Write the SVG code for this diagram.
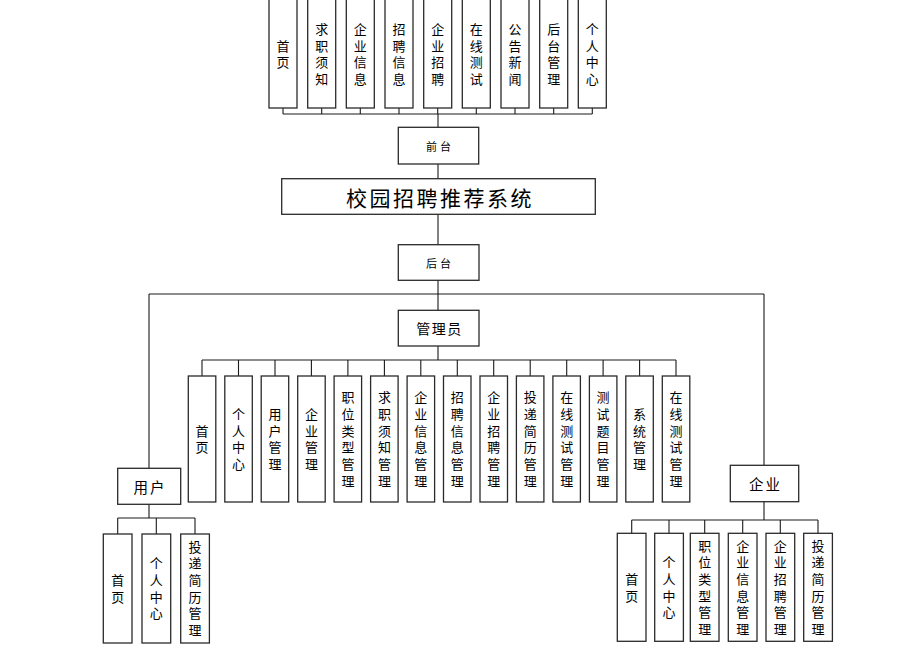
<svg xmlns="http://www.w3.org/2000/svg" width="909" height="645" viewBox="0 0 909 645">
<style>
.b{fill:#fff;stroke:#2a2a2a;stroke-width:1.3}
.c{fill:none;stroke:#1a1a1a;stroke-width:1.1}
.v{font-family:"Noto Sans CJK SC","Liberation Sans",sans-serif;font-size:13px;fill:#000;text-anchor:middle;writing-mode:vertical-rl;letter-spacing:3.7px}
.h{font-family:"Noto Sans CJK SC","Liberation Sans",sans-serif;fill:#000;text-anchor:middle;dominant-baseline:central}
</style>
<rect width="909" height="645" fill="#fff"/>
<g id="connectors">
<path class="c" d="M283,108V114M321.7,108V114M360.3,108V114M399,108V114M437.7,108V114M476.3,108V114M515,108V114M553.7,108V114M592.3,108V114M283,114H592.3M438,114V127"/>
<path class="c" d="M438,164V179M438,214V245M438,280V310M149,294H764M149,294V468M764,294V465"/>
<path class="c" d="M438,346V360M202,360H676M202,360V376M238.5,360V376M275,360V376M311.4,360V376M347.9,360V376M384.4,360V376M420.8,360V376M457.3,360V376M493.7,360V376M530.2,360V376M566.7,360V376M603.1,360V376M639.6,360V376M676,360V376"/>
<path class="c" d="M149,504V518M117.7,518H195M117.7,518V534M156.3,518V534M195,518V534"/>
<path class="c" d="M764,502V520M631.7,520H818M631.7,520V533M669,520V533M704.7,520V533M742.7,520V533M780.3,520V533M818,520V533"/>
</g>
<g id="top-1"><rect class="b" x="269" y="-1" width="28" height="109"/><text class="v" x="283" y="55.8">首页</text></g>
<g id="top-2"><rect class="b" x="307.7" y="-1" width="28" height="109"/><text class="v" x="321.7" y="55.8">求职须知</text></g>
<g id="top-3"><rect class="b" x="346.3" y="-1" width="28" height="109"/><text class="v" x="360.3" y="55.8">企业信息</text></g>
<g id="top-4"><rect class="b" x="385" y="-1" width="28" height="109"/><text class="v" x="399" y="55.8">招聘信息</text></g>
<g id="top-5"><rect class="b" x="423.7" y="-1" width="28" height="109"/><text class="v" x="437.7" y="55.8">企业招聘</text></g>
<g id="top-6"><rect class="b" x="462.3" y="-1" width="28" height="109"/><text class="v" x="476.3" y="55.8">在线测试</text></g>
<g id="top-7"><rect class="b" x="501" y="-1" width="28" height="109"/><text class="v" x="515" y="55.8">公告新闻</text></g>
<g id="top-8"><rect class="b" x="539.7" y="-1" width="28" height="109"/><text class="v" x="553.7" y="55.8">后台管理</text></g>
<g id="top-9"><rect class="b" x="578.3" y="-1" width="28" height="109"/><text class="v" x="592.3" y="55.8">个人中心</text></g>
<g id="qiantai"><rect class="b" x="398.3" y="127.3" width="80.4" height="36.7"/><text class="h" x="440" y="146" font-size="11" letter-spacing="3">前台</text></g>
<g id="title"><rect class="b" x="281.7" y="178.7" width="313.6" height="35.6"/><text class="h" x="440" y="196.5" font-size="21" letter-spacing="2.5">校园招聘推荐系统</text></g>
<g id="houtai"><rect class="b" x="398.3" y="244.7" width="80.7" height="35.6"/><text class="h" x="440" y="263" font-size="11" letter-spacing="3">后台</text></g>
<g id="admin"><rect class="b" x="398.3" y="310.3" width="80.7" height="35.7"/><text class="h" x="439.5" y="328" font-size="14" letter-spacing="1.5">管理员</text></g>
<g id="user"><rect class="b" x="117.7" y="468.3" width="63" height="36"/><text class="h" x="150" y="486.5" font-size="14.5" letter-spacing="2">用户</text></g>
<g id="company"><rect class="b" x="730.3" y="465.3" width="68.4" height="36.4"/><text class="h" x="765.5" y="483.5" font-size="14.5" letter-spacing="2">企业</text></g>
<g id="a1"><rect class="b" x="188.3" y="376" width="27.5" height="126"/><text class="v" x="202" y="440.8">首页</text></g>
<g id="a2"><rect class="b" x="224.8" y="376" width="27.5" height="126"/><text class="v" x="238.5" y="440.8">个人中心</text></g>
<g id="a3"><rect class="b" x="261.2" y="376" width="27.5" height="126"/><text class="v" x="275" y="440.8">用户管理</text></g>
<g id="a4"><rect class="b" x="297.7" y="376" width="27.5" height="126"/><text class="v" x="311.4" y="440.8">企业管理</text></g>
<g id="a5"><rect class="b" x="334.1" y="376" width="27.5" height="126"/><text class="v" x="347.9" y="440.8">职位类型管理</text></g>
<g id="a6"><rect class="b" x="370.6" y="376" width="27.5" height="126"/><text class="v" x="384.4" y="440.8">求职须知管理</text></g>
<g id="a7"><rect class="b" x="407.1" y="376" width="27.5" height="126"/><text class="v" x="420.8" y="440.8">企业信息管理</text></g>
<g id="a8"><rect class="b" x="443.5" y="376" width="27.5" height="126"/><text class="v" x="457.3" y="440.8">招聘信息管理</text></g>
<g id="a9"><rect class="b" x="480" y="376" width="27.5" height="126"/><text class="v" x="493.7" y="440.8">企业招聘管理</text></g>
<g id="a10"><rect class="b" x="516.4" y="376" width="27.5" height="126"/><text class="v" x="530.2" y="440.8">投递简历管理</text></g>
<g id="a11"><rect class="b" x="552.9" y="376" width="27.5" height="126"/><text class="v" x="566.7" y="440.8">在线测试管理</text></g>
<g id="a12"><rect class="b" x="589.4" y="376" width="27.5" height="126"/><text class="v" x="603.1" y="440.8">测试题目管理</text></g>
<g id="a13"><rect class="b" x="625.8" y="376" width="27.5" height="126"/><text class="v" x="639.6" y="440.8">系统管理</text></g>
<g id="a14"><rect class="b" x="662.3" y="376" width="27.5" height="126"/><text class="v" x="676" y="440.8">在线测试管理</text></g>
<g id="u1"><rect class="b" x="103.3" y="534" width="28.7" height="109"/><text class="v" x="117.7" y="590.3">首页</text></g>
<g id="u2"><rect class="b" x="142" y="534" width="28.7" height="109"/><text class="v" x="156.3" y="590.3">个人中心</text></g>
<g id="u3"><rect class="b" x="180.7" y="534" width="28.7" height="109"/><text class="v" x="195" y="590.3">投递简历管理</text></g>
<g id="e1"><rect class="b" x="617.3" y="533.3" width="28.7" height="108"/><text class="v" x="631.7" y="589.2">首页</text></g>
<g id="e2"><rect class="b" x="654.7" y="533.3" width="28.7" height="108"/><text class="v" x="669" y="589.2">个人中心</text></g>
<g id="e3"><rect class="b" x="690.3" y="533.3" width="28.7" height="108"/><text class="v" x="704.7" y="589.2">职位类型管理</text></g>
<g id="e4"><rect class="b" x="728.3" y="533.3" width="28.7" height="108"/><text class="v" x="742.7" y="589.2">企业信息管理</text></g>
<g id="e5"><rect class="b" x="766" y="533.3" width="28.7" height="108"/><text class="v" x="780.3" y="589.2">企业招聘管理</text></g>
<g id="e6"><rect class="b" x="803.7" y="533.3" width="28.7" height="108"/><text class="v" x="818" y="589.2">投递简历管理</text></g>
</svg>
